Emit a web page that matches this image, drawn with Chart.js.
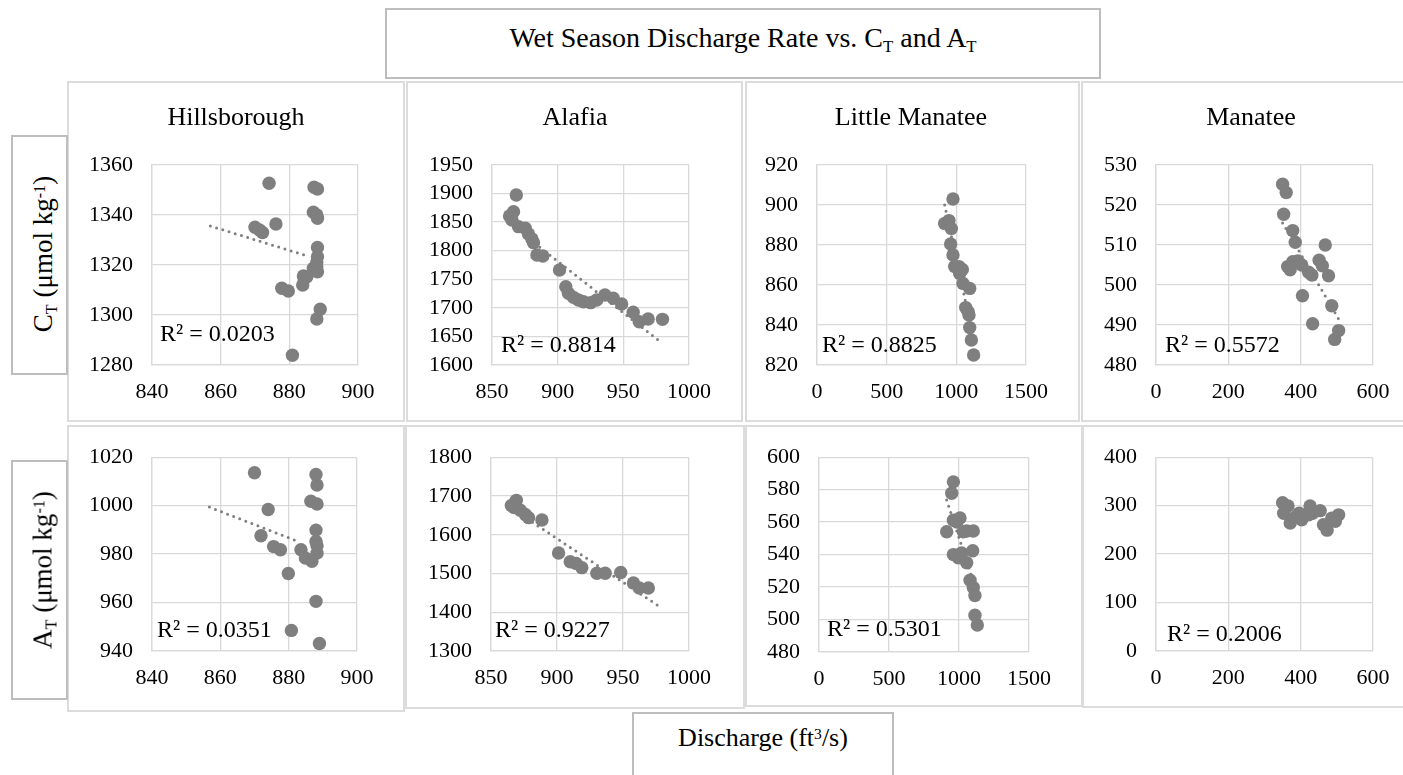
<!DOCTYPE html>
<html>
<head>
<meta charset="utf-8">
<script src="https://cdn.jsdelivr.net/npm/chart.js@4.4.1/dist/chart.umd.min.js"></script>
<style>
html,body{margin:0;padding:0;background:#fff;}
body{width:1403px;height:775px;overflow:hidden;position:relative;font-family:"Liberation Serif","Times New Roman",serif;color:#000;}
.panel{position:absolute;box-sizing:border-box;border:2px solid #dcdcdc;background:#fff;}
.lbl{position:absolute;box-sizing:border-box;border:2px solid #bdbdbd;background:#fff;}
canvas{position:absolute;}
.txt{position:absolute;white-space:nowrap;text-align:center;}
.sub{position:relative;top:0.3em;font-size:0.6em;}
.sup{position:relative;top:-0.42em;font-size:0.6em;}
.rot{position:absolute;white-space:nowrap;font-size:27px;line-height:27px;transform:translate(-50%,-50%) rotate(-90deg);}
</style>
</head>
<body>
<script>
// ---------------- DATA ----------------
const rivers = ["Hillsborough", "Alafia", "Little Manatee", "Manatee"];

// Hillsborough
const hilXTicks = [840, 860, 880, 900];
const hilCtYTicks = [1280, 1300, 1320, 1340, 1360];
const hilAtYTicks = [940, 960, 980, 1000, 1020];
const hilCtX = [874.1, 887.2, 888.2, 887.0, 888.0, 888.2, 876.1, 870.0, 871.3, 872.2, 888.2, 888.2, 888.0, 888.0, 887.0, 888.2, 885.1, 884.1, 883.9, 877.8, 879.7, 889.0, 888.0, 880.9];
const hilCtY = [1352.7, 1351.1, 1350.4, 1341.1, 1340.0, 1338.7, 1336.4, 1335.1, 1334.0, 1333.0, 1327.0, 1323.3, 1321.0, 1319.3, 1318.7, 1317.3, 1315.3, 1315.6, 1312.0, 1310.7, 1309.6, 1302.3, 1298.4, 1283.9];
const hilCtTrendX = [857.0, 885.1];
const hilCtTrendY = [1335.6, 1323.7];
const hilAtX = [870.0, 888.0, 888.3, 874.0, 886.5, 888.3, 888.0, 871.9, 875.6, 877.6, 883.6, 884.9, 888.0, 888.3, 886.8, 888.3, 879.9, 888.0, 880.8, 889.0];
const hilAtY = [1013.6, 1012.9, 1008.5, 998.4, 1001.8, 1000.7, 989.9, 987.6, 983.1, 981.8, 981.8, 978.4, 985.2, 980.4, 977.0, 983.4, 972.0, 960.5, 948.5, 943.1];
const hilAtTrendX = [856.8, 883.4];
const hilAtTrendY = [999.4, 984.9];

// Alafia
const alaXTicks = [850, 900, 950, 1000];
const alaCtYTicks = [1600, 1650, 1700, 1750, 1800, 1850, 1900, 1950];
const alaAtYTicks = [1300, 1400, 1500, 1600, 1700, 1800];
const alaCtX = [868.5, 863.4, 866.4, 865.2, 870.2, 875.3, 877.8, 880.4, 881.6, 884.2, 888.7, 901.4, 906.2, 908.2, 912.0, 915.8, 919.6, 925.1, 929.7, 936.0, 942.3, 948.7, 957.5, 962.1, 968.9, 979.8];
const alaCtY = [1897.5, 1860.8, 1868.3, 1853.8, 1842.1, 1839.2, 1829.3, 1820.5, 1814.1, 1792.5, 1790.8, 1766.3, 1737.1, 1725.4, 1718.4, 1713.8, 1710.8, 1709.1, 1713.8, 1722.5, 1716.7, 1706.8, 1692.2, 1675.8, 1680.5, 1679.9];
const alaCtTrendX = [863, 977];
const alaCtTrendY = [1848, 1643];
const alaAtX = [865.4, 869.2, 867.5, 872.2, 876.0, 878.5, 888.6, 901.2, 910.0, 914.5, 918.8, 930.2, 936.5, 948.3, 957.9, 962.4, 969.2];
const alaAtY = [1675.2, 1688.7, 1670.0, 1663.4, 1652.4, 1644.0, 1638.1, 1552.9, 1530.2, 1526.0, 1515.0, 1500.7, 1500.7, 1502.4, 1475.4, 1462.7, 1462.7];
const alaAtTrendX = [865, 978];
const alaAtTrendY = [1669, 1414];

// Little Manatee
const lmXTicks = [0, 500, 1000, 1500];
const lmCtYTicks = [820, 840, 860, 880, 900, 920];
const lmAtYTicks = [480, 500, 520, 540, 560, 580, 600];
const lmCtX = [976, 916, 947, 964, 959, 976, 988, 1019, 1043, 1024, 1048, 1096, 1067, 1084, 1091, 1096, 1108, 1124];
const lmCtY = [903.0, 890.8, 892.2, 888.3, 880.5, 875.0, 869.2, 869.2, 867.8, 865.8, 860.8, 858.3, 848.7, 846.7, 845.0, 838.7, 832.5, 825.0];
const lmCtTrendX = [916, 1124];
const lmCtTrendY = [900, 833];
const lmAtX = [960, 948, 912, 960, 1007, 985, 1055, 1102, 1031, 960, 995, 1019, 1055, 1098, 1079, 1102, 1114, 1114, 1131];
const lmAtY = [584.8, 577.8, 554.1, 561.2, 562.6, 560.0, 554.5, 554.5, 554.1, 540.0, 538.0, 541.0, 535.0, 542.4, 524.2, 519.8, 514.8, 502.6, 496.6];
const lmAtTrendX = [912, 1131];
const lmAtTrendY = [573.6, 515.8];

// Manatee
const manXTicks = [0, 200, 400, 600];
const manCtYTicks = [480, 490, 500, 510, 520, 530];
const manAtYTicks = [0, 100, 200, 300, 400];
const manCtX = [350, 360, 353, 378, 385, 364, 371, 378, 392, 403, 422, 431, 405, 433, 468, 451, 460, 477, 486, 505, 494];
const manCtY = [525.2, 523.1, 517.7, 513.6, 510.7, 504.6, 503.8, 505.8, 506.0, 505.0, 503.2, 502.5, 497.3, 490.3, 510.0, 506.2, 504.8, 502.3, 494.8, 488.6, 486.4];
const manCtTrendX = [350, 505];
const manCtTrendY = [515.5, 491.5];
const manAtX = [350, 365, 353, 371, 385, 403, 396, 426, 433, 454, 473, 463, 486, 505, 496, 422];
const manAtY = [305.9, 299.2, 284.4, 264.2, 276.3, 270.9, 284.4, 299.2, 284.4, 289.7, 249.4, 260.8, 274.3, 281.0, 267.6, 281.0];

// R squared values (top row CT, bottom row AT)
const r2Values = [0.0203, 0.8814, 0.8825, 0.5572, 0.0351, 0.9227, 0.5301, 0.2006];

// ---------------- LAYOUT (page pixels) ----------------
const layout = [
  {box:[67,81,338,341],   plot:[152,165,358,365], r2:[160,341]},
  {box:[406,81,337,341],  plot:[492,165,689,365], r2:[501,352]},
  {box:[745,81,335,341],  plot:[817,165,1026,365], r2:[822,352]},
  {box:[1081,81,330,341], plot:[1156,165,1373,365], r2:[1165,352]},
  {box:[67,425,338,287],  plot:[152,454,357,651], r2:[157,637]},
  {box:[405,425,340,284], plot:[491,453,689,651], r2:[495,637]},
  {box:[745,425,338,282], plot:[819,453,1029,652], r2:[827,636]},
  {box:[1082,425,330,283],plot:[1156,453,1373,651], r2:[1167,641]}
];
const titleCenters = [236, 575, 911, 1251];

const panels = [
  {x:hilCtX, y:hilCtY, tx:hilCtTrendX, ty:hilCtTrendY, xt:hilXTicks, yt:hilCtYTicks},
  {x:alaCtX, y:alaCtY, tx:alaCtTrendX, ty:alaCtTrendY, xt:alaXTicks, yt:alaCtYTicks},
  {x:lmCtX,  y:lmCtY,  tx:lmCtTrendX,  ty:lmCtTrendY,  xt:lmXTicks,  yt:lmCtYTicks},
  {x:manCtX, y:manCtY, tx:manCtTrendX, ty:manCtTrendY, xt:manXTicks, yt:manCtYTicks},
  {x:hilAtX, y:hilAtY, tx:hilAtTrendX, ty:hilAtTrendY, xt:hilXTicks, yt:hilAtYTicks},
  {x:alaAtX, y:alaAtY, tx:alaAtTrendX, ty:alaAtTrendY, xt:alaXTicks, yt:alaAtYTicks},
  {x:lmAtX,  y:lmAtY,  tx:lmAtTrendX,  ty:lmAtTrendY,  xt:lmXTicks,  yt:lmAtYTicks},
  {x:manAtX, y:manAtY, tx:null, ty:null, xt:manXTicks, yt:manAtYTicks}
];

const FONT = '"Liberation Serif", "Times New Roman", serif';
const GRID = '#d9d9d9';
const MARK = '#7f7f7f';

function el(tag, cls, style, html) {
  const e = document.createElement(tag);
  if (cls) e.className = cls;
  Object.assign(e.style, style);
  if (html !== undefined) e.innerHTML = html;
  document.body.appendChild(e);
  return e;
}

// panel frames
layout.forEach(L => {
  el('div', 'panel', {left:L.box[0]+'px', top:L.box[1]+'px', width:L.box[2]+'px', height:L.box[3]+'px'});
});

// charts
panels.forEach((p, i) => {
  const L = layout[i];
  const [bx, by, bw, bh] = L.box;
  const [pl, pt, pr, pb] = L.plot;
  const cv = el('canvas', '', {left:bx+'px', top:by+'px', width:bw+'px', height:bh+'px'});
  cv.width = bw; cv.height = bh;

  const datasets = [{
    data: p.x.map((v, k) => ({x: v, y: p.y[k]})),
    pointRadius: 6.7,
    pointHoverRadius: 6.7,
    pointBackgroundColor: MARK,
    pointBorderWidth: 0,
    backgroundColor: MARK,
    borderColor: MARK
  }];
  if (p.tx) {
    datasets.push({
      data: p.tx.map((v, k) => ({x: v, y: p.ty[k]})),
      showLine: true,
      pointRadius: 0,
      borderColor: MARK,
      borderWidth: 3,
      borderDash: [0, 6.5],
      borderCapStyle: 'round'
    });
  }

  const r2Plugin = {
    id: 'r2' + i,
    afterDraw(chart) {
      const ctx = chart.ctx;
      ctx.save();
      ctx.font = '24px ' + FONT;
      ctx.fillStyle = '#000';
      ctx.textBaseline = 'alphabetic';
      ctx.textAlign = 'left';
      ctx.fillText('R\u00B2 = ' + r2Values[i].toFixed(4), L.r2[0] - bx, L.r2[1] - by);
      ctx.restore();
    }
  };

  const tickFont = {family: FONT, size: 22};
  const fmt = v => String(v);
  new Chart(cv, {
    type: 'scatter',
    data: {datasets},
    plugins: [r2Plugin],
    options: {
      responsive: false,
      animation: false,
      events: [],
      layout: {padding: {left: 0, top: pt - by, right: (bx + bw) - pr, bottom: 0}},
      plugins: {legend: {display: false}, tooltip: {enabled: false}, title: {display: false}},
      scales: {
        x: {
          type: 'linear',
          min: p.xt[0], max: p.xt[p.xt.length - 1],
          afterBuildTicks: s => { s.ticks = p.xt.map(v => ({value: v})); },
          afterFit: s => { s.height = (by + bh) - pb; },
          ticks: {font: tickFont, color: '#000', padding: 14, autoSkip: false, maxRotation: 0, callback: fmt},
          grid: {color: GRID, lineWidth: 1.3, drawTicks: false},
          border: {color: GRID, width: 1.3}
        },
        y: {
          type: 'linear',
          min: p.yt[0], max: p.yt[p.yt.length - 1],
          afterBuildTicks: s => { s.ticks = p.yt.map(v => ({value: v})); },
          afterFit: s => { s.width = pl - bx; },
          ticks: {font: tickFont, color: '#000', padding: 19, autoSkip: false, callback: fmt},
          grid: {color: GRID, lineWidth: 1.3, drawTicks: false},
          border: {color: GRID, width: 1.3}
        }
      }
    }
  });
});

// subplot titles
rivers.forEach((r, i) => {
  el('div', 'txt', {left:(titleCenters[i] - 150)+'px', width:'300px', top:'104px', fontSize:'26px', lineHeight:'26px'}, r);
});

// main title
el('div', 'lbl', {left:'385px', top:'8px', width:'716px', height:'71px'});
el('div', 'txt', {left:'385px', width:'716px', top:'24px', fontSize:'28px', lineHeight:'28px'},
  'Wet Season Discharge Rate vs. C<span class="sub">T</span> and A<span class="sub">T</span>');

// y axis label boxes
el('div', 'lbl', {left:'11px', top:'135px', width:'57px', height:'240px'});
el('div', 'rot', {left:'45px', top:'254px'}, 'C<span class="sub">T</span> (\u03BCmol kg<span class="sup">-1</span>)');
el('div', 'lbl', {left:'11px', top:'460px', width:'57px', height:'240px'});
el('div', 'rot', {left:'45px', top:'570px'}, 'A<span class="sub">T</span> (\u03BCmol kg<span class="sup">-1</span>)');

// x axis label box
el('div', 'lbl', {left:'632px', top:'712px', width:'262px', height:'80px'});
el('div', 'txt', {left:'632px', width:'262px', top:'725px', fontSize:'26px', lineHeight:'26px'}, 'Discharge (ft<span class="sup">3</span>/s)');
</script>
</body>
</html>
